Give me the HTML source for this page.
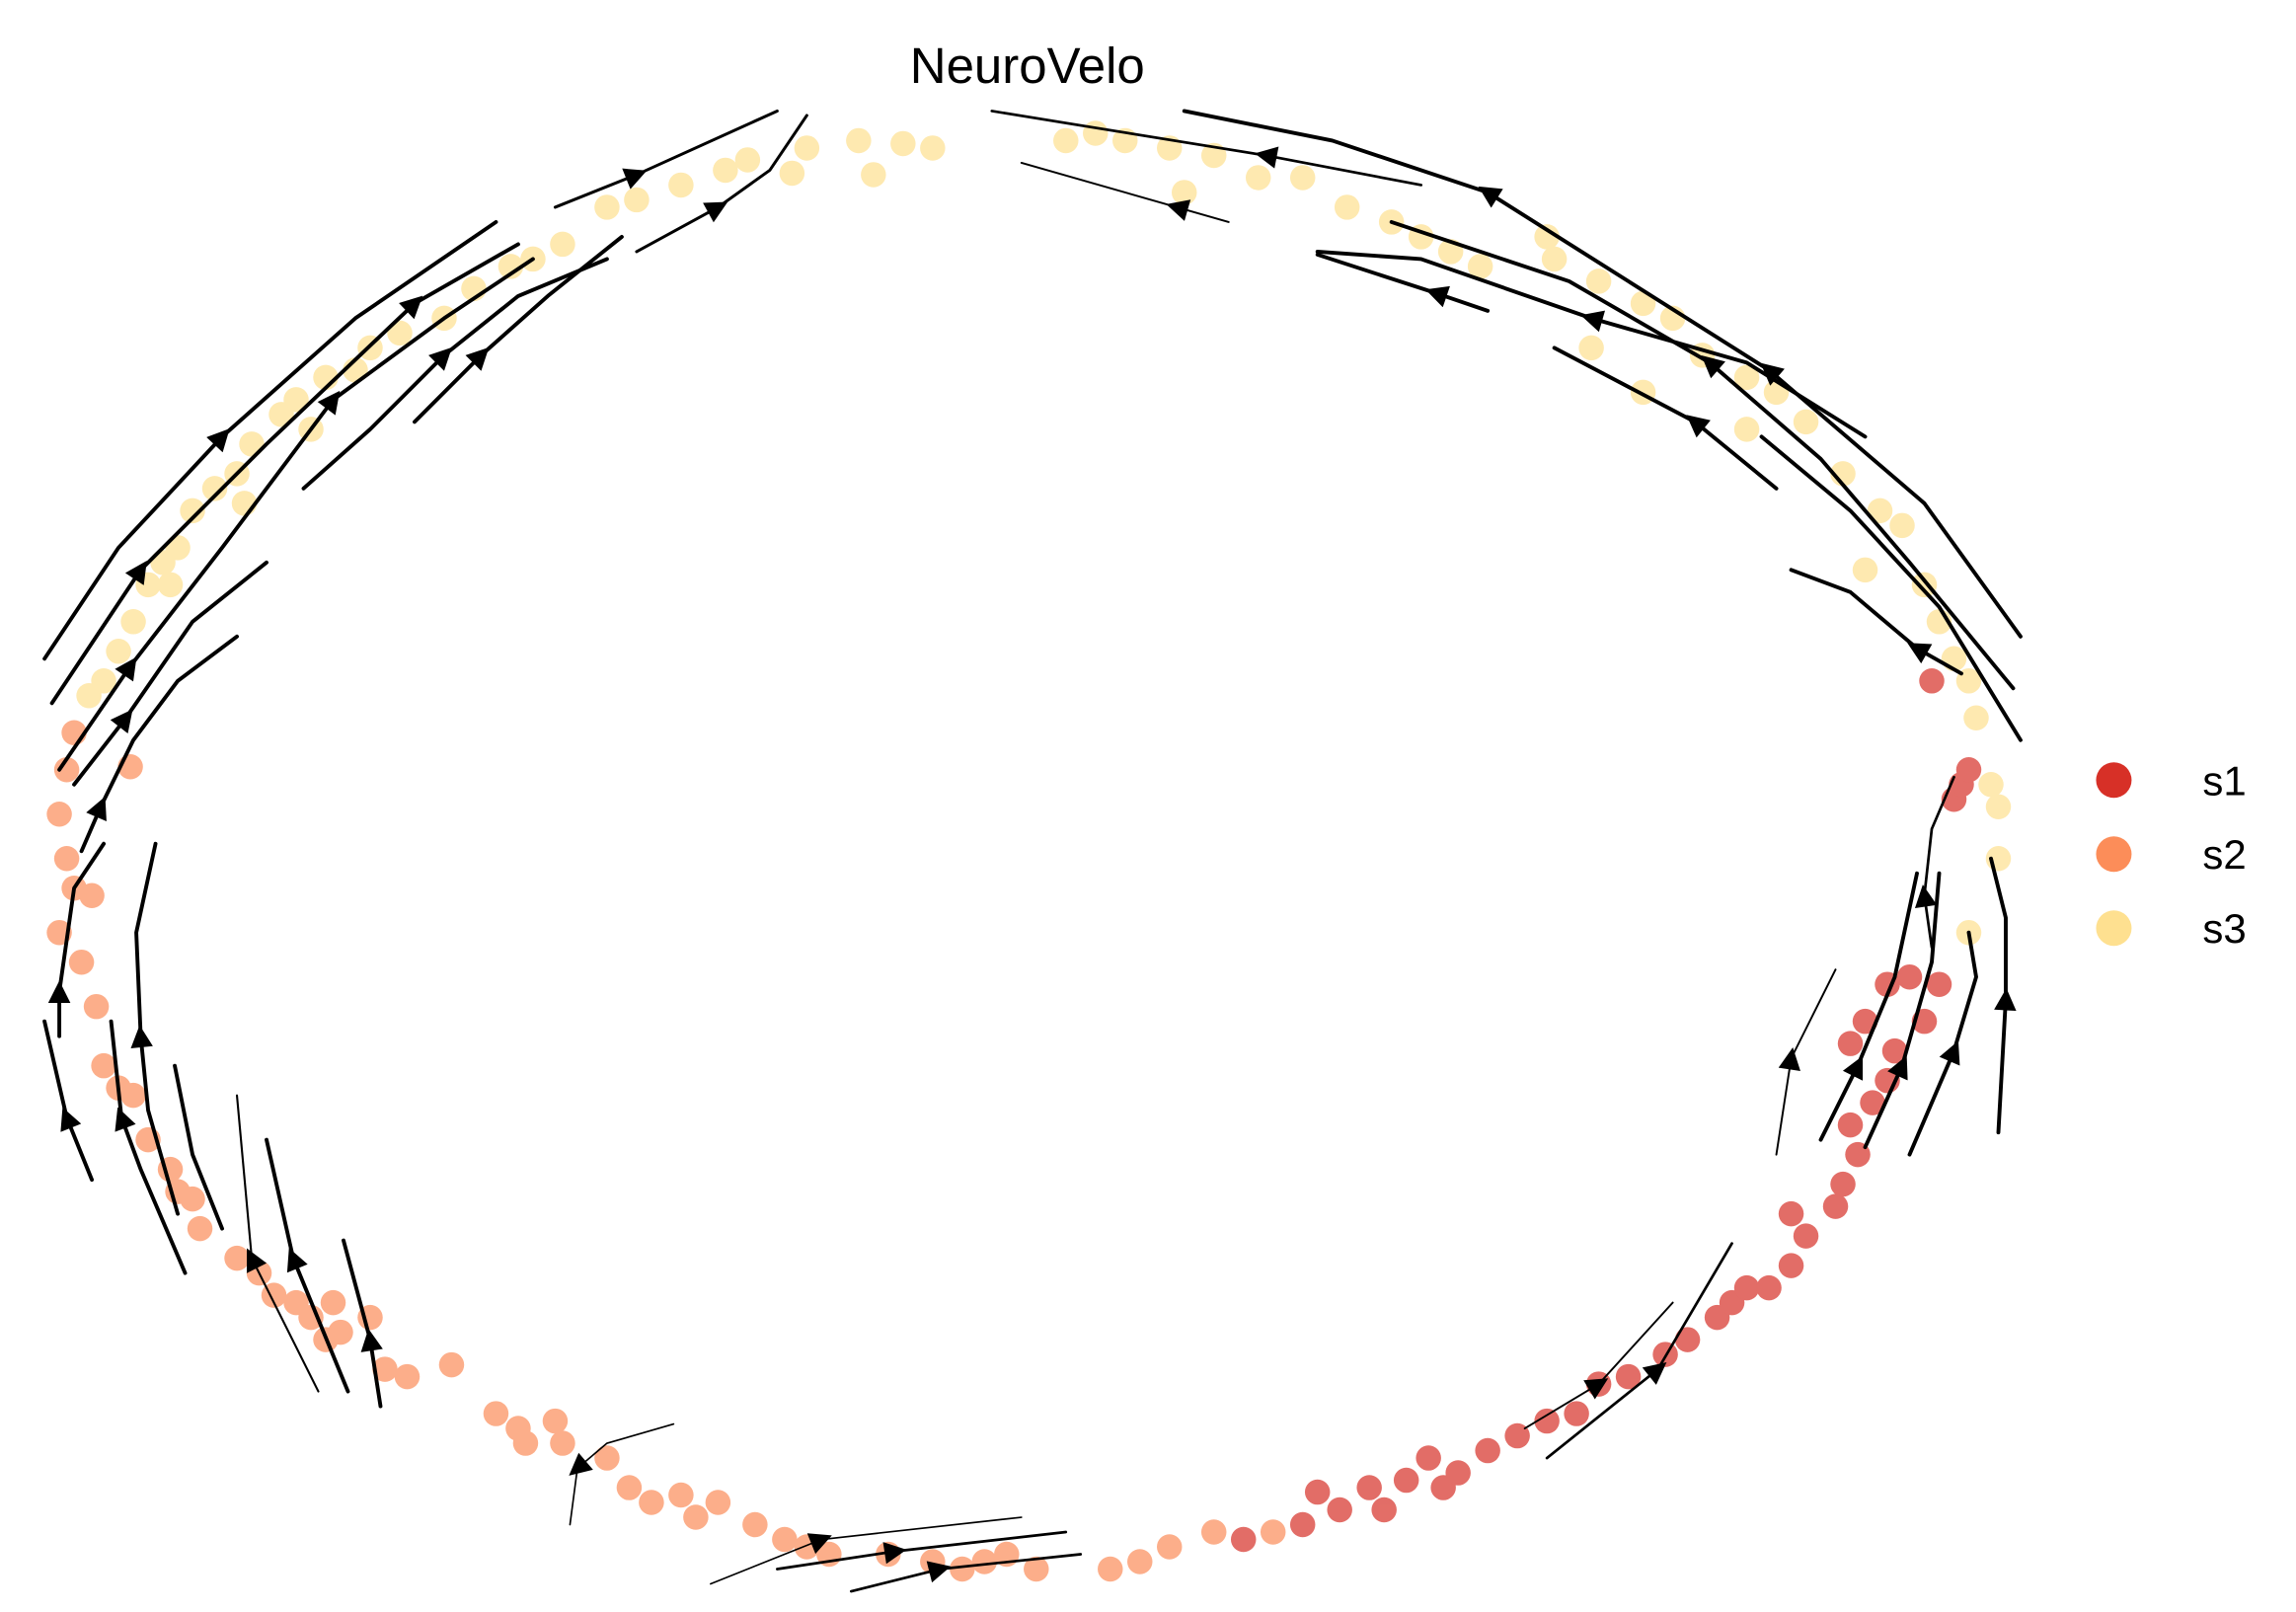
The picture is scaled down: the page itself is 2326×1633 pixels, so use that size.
<!DOCTYPE html>
<html><head><meta charset="utf-8"><style>html,body{margin:0;padding:0;background:#fff}svg{display:block}</style></head>
<body>
<svg width="2326" height="1633" viewBox="0 0 1551 1089" xmlns="http://www.w3.org/2000/svg" font-family="Liberation Sans, DejaVu Sans, sans-serif">
<defs>
<marker id="b" viewBox="0 0 10 10" refX="5" refY="5" markerWidth="19" markerHeight="15" markerUnits="userSpaceOnUse" orient="auto">
<path d="M0,0 L10,5 L0,10 z" fill="#000"/></marker>
</defs>
<text x="694" y="56" font-size="34" text-anchor="middle" fill="#000">NeuroVelo</text>

<g opacity="0.7">
<g fill="#fee090">
<circle cx="545" cy="100" r="8.5"/><circle cx="580" cy="95" r="8.5"/><circle cx="610" cy="97" r="8.5"/><circle cx="630" cy="100" r="8.5"/><circle cx="590" cy="118" r="8.5"/><circle cx="535" cy="117" r="8.5"/><circle cx="505" cy="108" r="8.5"/><circle cx="490" cy="115" r="8.5"/><circle cx="460" cy="125" r="8.5"/><circle cx="430" cy="135" r="8.5"/><circle cx="410" cy="140" r="8.5"/><circle cx="380" cy="165" r="8.5"/><circle cx="360" cy="175" r="8.5"/><circle cx="345" cy="180" r="8.5"/><circle cx="320" cy="195" r="8.5"/><circle cx="300" cy="215" r="8.5"/><circle cx="270" cy="225" r="8.5"/><circle cx="250" cy="235" r="8.5"/><circle cx="240" cy="250" r="8.5"/><circle cx="220" cy="255" r="8.5"/><circle cx="200" cy="270" r="8.5"/><circle cx="190" cy="280" r="8.5"/><circle cx="210" cy="290" r="8.5"/><circle cx="170" cy="300" r="8.5"/><circle cx="160" cy="320" r="8.5"/><circle cx="145" cy="330" r="8.5"/><circle cx="130" cy="345" r="8.5"/><circle cx="165" cy="340" r="8.5"/><circle cx="120" cy="370" r="8.5"/><circle cx="110" cy="380" r="8.5"/><circle cx="100" cy="395" r="8.5"/><circle cx="115" cy="395" r="8.5"/><circle cx="90" cy="420" r="8.5"/><circle cx="80" cy="440" r="8.5"/><circle cx="70" cy="460" r="8.5"/><circle cx="60" cy="470" r="8.5"/>
<circle cx="720" cy="95" r="8.5"/><circle cx="740" cy="90" r="8.5"/><circle cx="760" cy="95" r="8.5"/><circle cx="790" cy="100" r="8.5"/><circle cx="820" cy="105" r="8.5"/><circle cx="850" cy="120" r="8.5"/><circle cx="880" cy="120" r="8.5"/><circle cx="800" cy="130" r="8.5"/><circle cx="910" cy="140" r="8.5"/><circle cx="940" cy="150" r="8.5"/><circle cx="960" cy="160" r="8.5"/><circle cx="980" cy="170" r="8.5"/><circle cx="1000" cy="180" r="8.5"/><circle cx="1045" cy="160" r="8.5"/><circle cx="1050" cy="175" r="8.5"/><circle cx="1080" cy="190" r="8.5"/><circle cx="1110" cy="205" r="8.5"/><circle cx="1130" cy="215" r="8.5"/><circle cx="1075" cy="235" r="8.5"/><circle cx="1150" cy="240" r="8.5"/><circle cx="1110" cy="265" r="8.5"/><circle cx="1180" cy="255" r="8.5"/><circle cx="1200" cy="265" r="8.5"/><circle cx="1220" cy="285" r="8.5"/><circle cx="1180" cy="290" r="8.5"/><circle cx="1245" cy="320" r="8.5"/><circle cx="1270" cy="345" r="8.5"/><circle cx="1285" cy="355" r="8.5"/><circle cx="1260" cy="385" r="8.5"/><circle cx="1300" cy="395" r="8.5"/><circle cx="1310" cy="420" r="8.5"/><circle cx="1320" cy="445" r="8.5"/><circle cx="1330" cy="460" r="8.5"/><circle cx="1335" cy="485" r="8.5"/><circle cx="1345" cy="530" r="8.5"/><circle cx="1350" cy="545" r="8.5"/><circle cx="1350" cy="580" r="8.5"/><circle cx="1330" cy="630" r="8.5"/>
</g>
<g fill="#fc8d59">
<circle cx="50" cy="495" r="8.5"/><circle cx="45" cy="520" r="8.5"/><circle cx="88" cy="518" r="8.5"/><circle cx="40" cy="550" r="8.5"/><circle cx="45" cy="580" r="8.5"/><circle cx="50" cy="600" r="8.5"/><circle cx="62" cy="605" r="8.5"/><circle cx="40" cy="630" r="8.5"/><circle cx="55" cy="650" r="8.5"/><circle cx="65" cy="680" r="8.5"/><circle cx="70" cy="720" r="8.5"/><circle cx="80" cy="735" r="8.5"/><circle cx="90" cy="740" r="8.5"/><circle cx="100" cy="770" r="8.5"/><circle cx="115" cy="790" r="8.5"/><circle cx="120" cy="805" r="8.5"/><circle cx="130" cy="810" r="8.5"/><circle cx="135" cy="830" r="8.5"/><circle cx="160" cy="850" r="8.5"/><circle cx="175" cy="860" r="8.5"/><circle cx="185" cy="875" r="8.5"/><circle cx="200" cy="880" r="8.5"/><circle cx="210" cy="890" r="8.5"/><circle cx="225" cy="880" r="8.5"/><circle cx="230" cy="900" r="8.5"/><circle cx="250" cy="890" r="8.5"/><circle cx="220" cy="905" r="8.5"/><circle cx="260" cy="925" r="8.5"/><circle cx="275" cy="930" r="8.5"/><circle cx="305" cy="922" r="8.5"/><circle cx="335" cy="955" r="8.5"/><circle cx="350" cy="965" r="8.5"/><circle cx="355" cy="975" r="8.5"/><circle cx="375" cy="960" r="8.5"/><circle cx="380" cy="975" r="8.5"/><circle cx="410" cy="985" r="8.5"/><circle cx="425" cy="1005" r="8.5"/><circle cx="440" cy="1015" r="8.5"/><circle cx="460" cy="1010" r="8.5"/><circle cx="470" cy="1025" r="8.5"/><circle cx="485" cy="1015" r="8.5"/><circle cx="510" cy="1030" r="8.5"/><circle cx="530" cy="1040" r="8.5"/><circle cx="545" cy="1045" r="8.5"/><circle cx="560" cy="1050" r="8.5"/><circle cx="600" cy="1050" r="8.5"/><circle cx="630" cy="1055" r="8.5"/><circle cx="650" cy="1060" r="8.5"/><circle cx="665" cy="1055" r="8.5"/><circle cx="680" cy="1050" r="8.5"/><circle cx="700" cy="1060" r="8.5"/><circle cx="750" cy="1060" r="8.5"/><circle cx="770" cy="1055" r="8.5"/><circle cx="790" cy="1045" r="8.5"/><circle cx="820" cy="1035" r="8.5"/><circle cx="860" cy="1035" r="8.5"/>
</g>
<g fill="#d73027">
<circle cx="840" cy="1040" r="8.5"/><circle cx="880" cy="1030" r="8.5"/><circle cx="890" cy="1008" r="8.5"/><circle cx="905" cy="1020" r="8.5"/><circle cx="925" cy="1005" r="8.5"/><circle cx="935" cy="1020" r="8.5"/><circle cx="950" cy="1000" r="8.5"/><circle cx="965" cy="985" r="8.5"/><circle cx="975" cy="1005" r="8.5"/><circle cx="985" cy="995" r="8.5"/><circle cx="1005" cy="980" r="8.5"/><circle cx="1025" cy="970" r="8.5"/><circle cx="1045" cy="960" r="8.5"/><circle cx="1065" cy="955" r="8.5"/><circle cx="1080" cy="935" r="8.5"/><circle cx="1100" cy="930" r="8.5"/><circle cx="1125" cy="915" r="8.5"/><circle cx="1140" cy="905" r="8.5"/><circle cx="1160" cy="890" r="8.5"/><circle cx="1170" cy="880" r="8.5"/><circle cx="1180" cy="870" r="8.5"/><circle cx="1195" cy="870" r="8.5"/><circle cx="1210" cy="855" r="8.5"/><circle cx="1220" cy="835" r="8.5"/><circle cx="1210" cy="820" r="8.5"/><circle cx="1240" cy="815" r="8.5"/><circle cx="1245" cy="800" r="8.5"/><circle cx="1255" cy="780" r="8.5"/><circle cx="1250" cy="760" r="8.5"/><circle cx="1265" cy="745" r="8.5"/><circle cx="1275" cy="730" r="8.5"/><circle cx="1280" cy="710" r="8.5"/><circle cx="1250" cy="705" r="8.5"/><circle cx="1260" cy="690" r="8.5"/><circle cx="1275" cy="665" r="8.5"/><circle cx="1290" cy="660" r="8.5"/><circle cx="1300" cy="690" r="8.5"/><circle cx="1310" cy="665" r="8.5"/><circle cx="1320" cy="540" r="8.5"/><circle cx="1325" cy="530" r="8.5"/><circle cx="1330" cy="520" r="8.5"/><circle cx="1305" cy="460" r="8.5"/>
</g>
</g>

<g fill="none" stroke="#000" stroke-width="2.6" stroke-linecap="round" stroke-linejoin="round">
<path d="M30,445 L80,370 L150,295" marker-end="url(#b)"/><path d="M150,295 L240,215 L335,150"/>
<path d="M35,475 L95,385" marker-end="url(#b)"/><path d="M95,385 L180,300 L280,205" marker-end="url(#b)"/><path d="M280,205 L350,165"/>
<path d="M40,520 L88,450" marker-end="url(#b)"/><path d="M88,450 L150,370 L225,270" marker-end="url(#b)"/><path d="M225,270 L300,215 L360,175"/>
<path d="M55,575 L68,545" marker-end="url(#b)"/><path d="M68,545 L90,500 L120,460 L160,430"/>
<path d="M50,530 L85,485" marker-end="url(#b)"/><path d="M85,485 L130,420 L180,380"/>
<path d="M205,330 L250,290 L300,240" marker-end="url(#b)"/><path d="M300,240 L350,200 L410,175"/>
<path d="M280,285 L325,240" marker-end="url(#b)"/><path d="M325,240 L370,200 L420,160"/>
<path stroke-width="2" d="M375,140 L430,118" marker-end="url(#b)"/><path stroke-width="2" d="M430,118 L525,75"/>
<path stroke-width="2" d="M430,170 L485,140" marker-end="url(#b)"/><path stroke-width="2" d="M485,140 L520,115 L545,78"/>
<path d="M1365,430 L1300,340 L1195,250" marker-end="url(#b)"/><path d="M1195,250 L1100,190 L1005,130" marker-end="url(#b)"/><path d="M1005,130 L900,95 L800,75"/>
<path d="M1360,465 L1290,380 L1230,310 L1155,245" marker-end="url(#b)"/><path d="M1155,245 L1060,190 L940,150"/>
<path d="M1365,500 L1310,410 L1250,345 L1190,295"/>
<path d="M1325,455 L1295,438" marker-end="url(#b)"/><path d="M1295,438 L1250,400 L1210,385"/>
<path d="M1260,295 L1180,245 L1075,215" marker-end="url(#b)"/><path d="M1075,215 L960,175 L890,170"/>
<path d="M1200,330 L1145,285" marker-end="url(#b)"/><path d="M1145,285 L1050,235"/>
<path stroke-width="1.8" d="M960,125 L855,105" marker-end="url(#b)"/><path stroke-width="1.8" d="M855,105 L670,75"/>
<path stroke-width="1.3" d="M830,150 L795,140" marker-end="url(#b)"/><path stroke-width="1.3" d="M795,140 L690,110"/>
<path d="M1005,210 L970,198" marker-end="url(#b)"/><path d="M970,198 L890,172"/>
<path d="M1350,765 L1355,675" marker-end="url(#b)"/><path d="M1355,675 L1355,620 L1345,580"/>
<path d="M1290,780 L1320,710" marker-end="url(#b)"/><path d="M1320,710 L1335,660 L1330,630"/>
<path d="M1260,775 L1285,720" marker-end="url(#b)"/><path d="M1285,720 L1305,650 L1310,590"/>
<path d="M1230,770 L1255,720" marker-end="url(#b)"/><path d="M1255,720 L1280,660 L1295,590"/>
<path stroke-width="1.3" d="M1200,780 L1210,715" marker-end="url(#b)"/><path stroke-width="1.3" d="M1210,715 L1240,655"/>
<path stroke-width="1.8" d="M1305,640 L1300,605" marker-end="url(#b)"/><path stroke-width="1.8" d="M1300,605 L1305,560 L1320,525"/>
<path stroke-width="1.8" d="M1045,985 L1120,925" marker-end="url(#b)"/><path stroke-width="1.8" d="M1120,925 L1170,840"/>
<path stroke-width="1.3" d="M1030,965 L1080,935" marker-end="url(#b)"/><path stroke-width="1.3" d="M1080,935 L1130,880"/>
<path stroke-width="1.1" d="M480,1070 L555,1040" marker-end="url(#b)"/><path stroke-width="1.1" d="M555,1040 L690,1025"/>
<path stroke-width="1.8" d="M525,1060 L605,1048" marker-end="url(#b)"/><path stroke-width="1.8" d="M605,1048 L720,1035"/>
<path stroke-width="1.8" d="M575,1075 L635,1060" marker-end="url(#b)"/><path stroke-width="1.8" d="M635,1060 L730,1050"/>
<path stroke-width="1.1" d="M455,962 L410,975 L390,992" marker-end="url(#b)"/><path stroke-width="1.1" d="M390,992 L385,1030"/>
<path d="M62,797 L45,755" marker-end="url(#b)"/><path d="M45,755 L30,690"/>
<path d="M125,860 L95,790 L82,755" marker-end="url(#b)"/><path d="M82,755 L75,690"/>
<path d="M120,820 L100,750 L95,700" marker-end="url(#b)"/><path d="M95,700 L92,630 L105,570"/>
<path d="M40,700 L40,670" marker-end="url(#b)"/><path d="M40,670 L50,600 L70,570"/>
<path d="M150,830 L130,780 L118,720"/>
<path stroke-width="1.4" d="M215,940 L170,850" marker-end="url(#b)"/><path stroke-width="1.4" d="M170,850 L160,740"/>
<path d="M235,940 L198,850" marker-end="url(#b)"/><path d="M198,850 L180,770"/>
<path d="M257,950 L250,905" marker-end="url(#b)"/><path d="M250,905 L232,838"/>
</g>

<g font-size="28" fill="#000">
<circle cx="1428" cy="527" r="12" fill="#d73027"/><text x="1488" y="537">s1</text>
<circle cx="1428" cy="577" r="12" fill="#fc8d59"/><text x="1488" y="587">s2</text>
<circle cx="1428" cy="627" r="12" fill="#fee090"/><text x="1488" y="637">s3</text>
</g>
</svg>
</body></html>
